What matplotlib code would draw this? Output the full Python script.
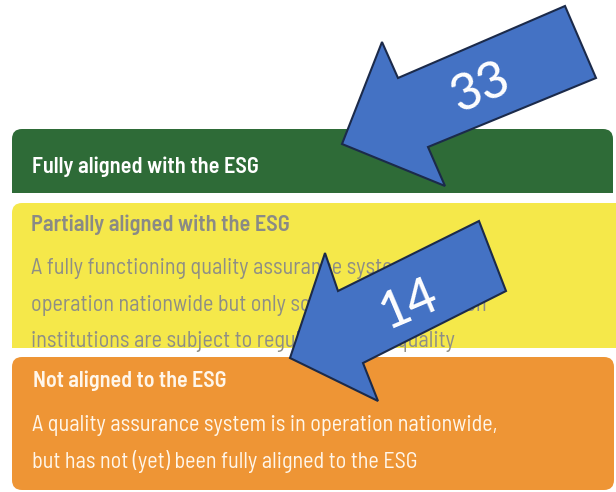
import matplotlib
matplotlib.use('Agg')
import matplotlib.pyplot as plt
from matplotlib.patches import FancyBboxPatch, Rectangle, Polygon

# Data
titles = ['Fully aligned with the ESG',
          'Partially aligned with the ESG',
          'Not aligned to the ESG']
bodies = [[],
          ['A fully functioning quality assurance system is in',
           'operation nationwide but only some higher education',
           'institutions are subject to regular external quality'],
          ['A quality assurance system is in operation nationwide,',
           'but has not (yet) been fully aligned to the ESG']]
counts = [33, 14]

box_font = ['Barlow Semi Condensed', 'DejaVu Sans']

fig = plt.figure(figsize=(6.16, 4.92), dpi=100)
ax = fig.add_axes([0, 0, 1, 1])
ax.set_xlim(0, 616)
ax.set_ylim(492, 0)
ax.axis('off')
renderer = fig.canvas.get_renderer()


def fit(t, width_px):
    bb = t.get_window_extent(renderer)
    t.set_fontsize(t.get_fontsize() * width_px / bb.width)


# Boxes (clipped so the cut edges stay straight)
boxes = [
    ((12, 129, 601, 90), (0, 0, 616, 193), '#2E6B37'),
    ((12, 203, 620, 160), (0, 203, 616, 145), '#F5E84A'),
    ((12, 357, 602, 133), (0, 357, 616, 140), '#EE9535'),
]
for (x, y, w, h), clip, color in boxes:
    p = FancyBboxPatch((x, y), w, h, boxstyle='round,pad=0,rounding_size=10',
                       facecolor=color, edgecolor='none', zorder=1)
    ax.add_patch(p)
    cr = Rectangle(clip[:2], clip[2], clip[3], transform=ax.transData)
    p.set_clip_path(cr)

# Titles
title_cols = ['white', '#8A8A86', '#FFF6EA']
title_pos = [(32, 173), (31, 231), (33, 387)]
title_w = [226, 258, 194]
for s, c, (x, y), w in zip(titles, title_cols, title_pos, title_w):
    t = ax.text(x, y, s, color=c, family=box_font, fontweight='semibold',
                fontsize=14, va='baseline', ha='left', zorder=2)
    fit(t, w)

# Body lines
yellow_clip = Rectangle((0, 203), 616, 145, transform=ax.transData)
t = ax.text(31, 311, bodies[1][1], family=box_font, fontsize=14)
fit(t, 456)
body_size = t.get_fontsize()
t.remove()

for s, y in zip(bodies[1], [274, 311, 347]):
    t = ax.text(31, y, s, color='#8E8E86', family=box_font,
                fontsize=body_size, va='baseline', zorder=2)
    t.set_clip_path(yellow_clip)

for s, y in zip(bodies[2], [431, 468]):
    ax.text(32, y, s, color='#FFF6EA', family=box_font,
            fontsize=body_size, va='baseline', zorder=2)

# Arrows
arrow1 = [(565, 6), (596, 78), (428, 147), (445, 186),
          (342, 144), (382, 42), (398, 78)]
arrow2 = [(479, 221), (506, 291), (363, 363), (378, 401),
          (290, 358), (325, 253), (338, 291)]
for pts in [arrow1, arrow2]:
    ax.add_patch(Polygon(pts, closed=True, facecolor='#4472C4',
                         edgecolor='#1B2A4A', linewidth=1.5, zorder=3))

num_pos = [(480, 87), (408, 303)]
for n, (x, y) in zip(counts, num_pos):
    ax.text(x, y, str(n), color='white', family=['Carlito', 'Open Sans'],
            fontsize=42, rotation=23, rotation_mode='anchor',
            ha='center', va='center', zorder=4)

plt.savefig('out.png', dpi=100)
plt.close()
